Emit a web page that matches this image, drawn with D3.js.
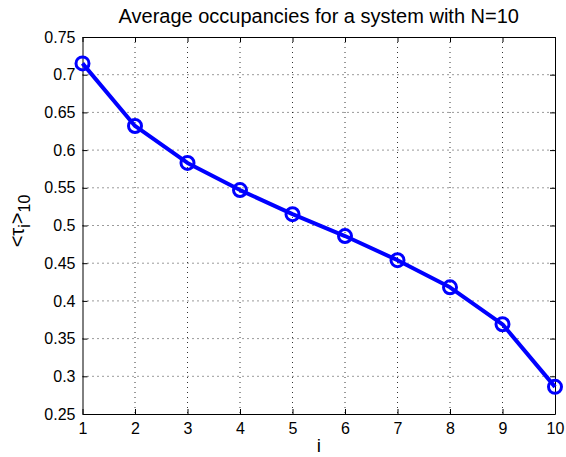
<!DOCTYPE html>
<html><head><meta charset="utf-8">
<script src="https://cdn.jsdelivr.net/npm/d3@7"></script>
<style>body{margin:0;background:#fff}svg{display:block;font-family:"Liberation Sans",Arial,sans-serif}</style>
</head><body>
<svg id="c" width="566" height="457"></svg>
<script>
const xValues = [1,2,3,4,5,6,7,8,9,10];
const yValues = [0.715,0.632,0.583,0.547,0.515,0.486,0.454,0.418,0.369,0.286];
const xTicks = [1,2,3,4,5,6,7,8,9,10];
const yTicks = [0.25,0.3,0.35,0.4,0.45,0.5,0.55,0.6,0.65,0.7,0.75];
const yTickLabels = ["0.25","0.3","0.35","0.4","0.45","0.5","0.55","0.6","0.65","0.7","0.75"];

const svg = d3.select("#c");
const L=82.5,R=555,T=37,B=414;
const x = d3.scaleLinear().domain([1,10]).range([L,R]);
const y = d3.scaleLinear().domain([0.25,0.75]).range([B,T]);

const g = svg.append("g");
g.selectAll(".gx").data(xTicks.slice(1,-1)).enter().append("line")
  .attr("x1",d=>x(d)).attr("x2",d=>x(d)).attr("y1",T).attr("y2",B)
  .attr("stroke","#000").attr("stroke-width",0.8).attr("stroke-dasharray","1,4");
g.selectAll(".gy").data(yTicks.slice(1,-1)).enter().append("line")
  .attr("y1",d=>y(d)).attr("y2",d=>y(d)).attr("x1",L).attr("x2",R)
  .attr("stroke","#000").attr("stroke-width",0.8).attr("stroke-dasharray","1,4");

const fmt = (d)=>yTickLabels[yTicks.indexOf(d)];
const ax = svg.append("g").attr("transform",`translate(0,${B})`)
  .call(d3.axisBottom(x).tickValues(xTicks).tickSizeInner(-5).tickSizeOuter(0).tickPadding(9));
const axT = svg.append("g").attr("transform",`translate(0,${T})`)
  .call(d3.axisTop(x).tickValues(xTicks).tickSizeInner(-5).tickSizeOuter(0).tickFormat(""));
const ay = svg.append("g").attr("transform",`translate(${L},0)`)
  .call(d3.axisLeft(y).tickValues(yTicks).tickFormat(fmt).tickSizeInner(-5).tickSizeOuter(0).tickPadding(7));
const ayR = svg.append("g").attr("transform",`translate(${R},0)`)
  .call(d3.axisRight(y).tickValues(yTicks).tickSizeInner(-5).tickSizeOuter(0).tickFormat(""));
[ax,axT,ay,ayR].forEach(a=>{
  a.selectAll("path,line").attr("stroke","#000").attr("stroke-width",1);
  a.selectAll("text").attr("fill","#000").style("font-size","16px").style("font-family","'Liberation Sans',Arial,sans-serif");
});

const line = d3.line().x((d,i)=>x(xValues[i])).y(d=>y(d));
svg.append("path").datum(yValues).attr("d",line).attr("fill","none")
  .attr("stroke","#0000ff").attr("stroke-width",4).attr("stroke-linejoin","round");
svg.selectAll(".m").data(yValues).enter().append("circle")
  .attr("cx",(d,i)=>x(xValues[i])).attr("cy",d=>y(d)).attr("r",6.5)
  .attr("fill","none").attr("stroke","#0000ff").attr("stroke-width",3);

svg.append("text").attr("x",(L+R)/2).attr("y",23).attr("text-anchor","middle")
  .style("font-size","20px").text("Average occupancies for a system with N=10");
svg.append("text").attr("x",(L+R)/2).attr("y",452).attr("text-anchor","middle")
  .style("font-size","19px").text("i");
const yl = svg.append("text").attr("transform","translate(24,221) rotate(-90)").attr("text-anchor","middle")
  .style("font-size","20px");
yl.append("tspan").text("<τ");
yl.append("tspan").attr("dy",6).style("font-size","16px").text("i");
yl.append("tspan").attr("dy",-6).text(">");
yl.append("tspan").attr("dy",6).style("font-size","16px").text("10");
</script>
</body></html>
